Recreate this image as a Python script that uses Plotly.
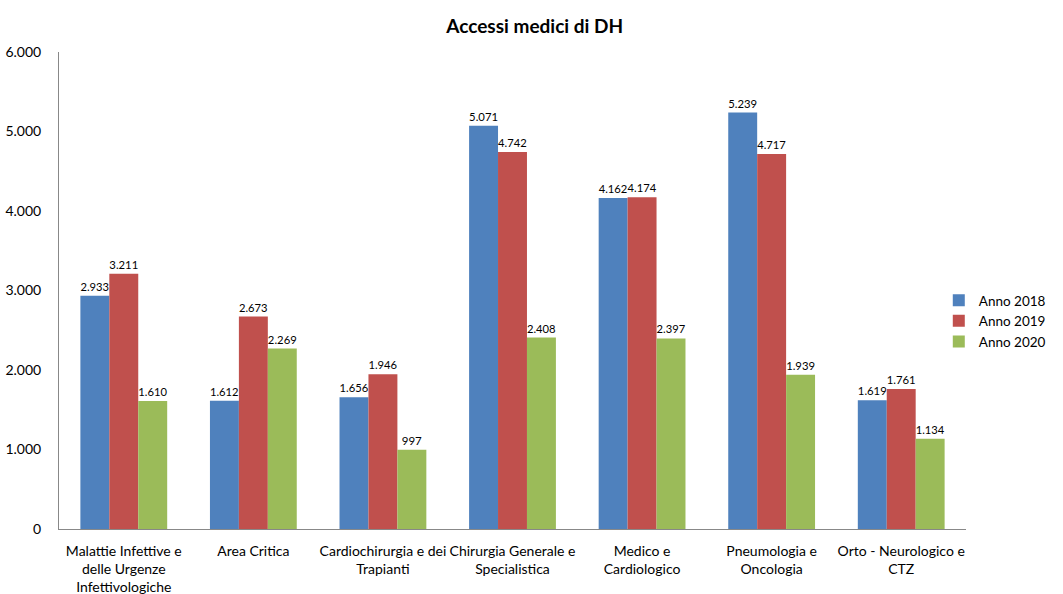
import plotly.graph_objects as go

categories = [
    "Malattie Infettive e<br>delle Urgenze<br>Infettivologiche",
    "Area Critica",
    "Cardiochirurgia e dei<br>Trapianti",
    "Chirurgia Generale e<br>Specialistica",
    "Medico e<br>Cardiologico",
    "Pneumologia e<br>Oncologia",
    "Orto - Neurologico e<br>CTZ",
]
anno_2018 = [2933, 1612, 1656, 5071, 4162, 5239, 1619]
anno_2019 = [3211, 2673, 1946, 4742, 4174, 4717, 1761]
anno_2020 = [1610, 2269, 997, 2408, 2397, 1939, 1134]
series_names = ["Anno 2018", "Anno 2019", "Anno 2020"]
colors = ["#4F81BD", "#C0504D", "#9BBB59"]
y_ticks = [0, 1000, 2000, 3000, 4000, 5000, 6000]

FONT = "Lato, 'Open Sans', sans-serif"

fig = go.Figure()
for name, vals, col in zip(series_names, [anno_2018, anno_2019, anno_2020], colors):
    fig.add_trace(go.Bar(
        x=categories, y=vals, name=name, marker_color=col,
        marker_line_width=0,
        text=vals, texttemplate="%{y:,}", textposition="outside",
        textfont=dict(size=11.5, color="#000000", family=FONT),
        cliponaxis=False,
    ))

fig.update_layout(
    width=1063, height=594,
    separators=",.",
    barmode="group", bargap=0.33, bargroupgap=0,
    plot_bgcolor="white", paper_bgcolor="white",
    font=dict(family=FONT, size=14, color="#000000"),
    title=dict(text="<b>Accessi medici di DH</b>", x=0.503, xanchor="center",
               y=0.955, yanchor="middle", font=dict(size=19, family=FONT)),
    margin=dict(l=59, r=97, t=52, b=65),
    showlegend=True,
    legend=dict(x=0.97, y=0.436, xanchor="left", yanchor="middle",
                font=dict(size=13.5, family=FONT), tracegroupgap=0,
                itemwidth=30, bgcolor="rgba(0,0,0,0)"),
)
fig.update_xaxes(showline=True, linecolor="#888888", linewidth=1,
                 ticks="", tickfont=dict(size=14, family=FONT), tickangle=0,
                 ticklabelstandoff=9, automargin=False)
fig.update_yaxes(range=[0, 6000], tickvals=y_ticks, tickformat=",",
                 showgrid=False, zeroline=False, showline=True,
                 linecolor="#888888", linewidth=1, ticks="",
                 tickfont=dict(size=14, family=FONT), ticklabelstandoff=14,
                 automargin=False)

fig.write_html("out.html")
